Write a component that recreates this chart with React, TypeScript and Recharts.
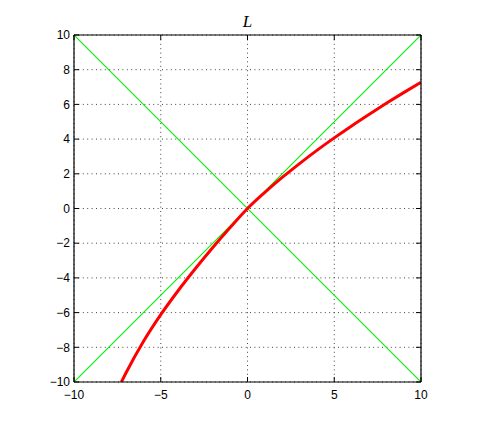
import React from "react";
import {CartesianGrid, Line, LineChart, XAxis, YAxis} from "recharts";

// red curve L(x)
const curveX = [-7.27, -7, -6, -5, -4, -3, -2, -1, 0, 1, 2, 3, 4, 5, 6, 7, 8, 9, 10];
const curveY = [-10, -9.47, -7.67, -6.12, -4.74, -3.46, -2.25, -1.1, 0, 0.93, 1.79, 2.59, 3.35, 4.07, 4.76, 5.42, 6.06, 6.68, 7.28];

// green reference diagonals
const diagX = [-10, 10];
const riseY = [-10, 10];
const fallY = [10, -10];

const xTicks = [-10, -5, 0, 5, 10];
const yTicks = [-10, -8, -6, -4, -2, 0, 2, 4, 6, 8, 10];

const curveData = curveX.map((x, i) => ({x, y: curveY[i]}));
const riseData = diagX.map((x, i) => ({x, y: riseY[i]}));
const fallData = diagX.map((x, i) => ({x, y: fallY[i]}));

const fmt = (v: number) => (v < 0 ? "\u2212" + Math.abs(v) : String(v));
const blank = () => "";

const tickStyle = {fontSize: 12, fontFamily: "Liberation Sans", fill: "#000"};

const App = () => {
    return (
        <div style={{position: "relative", width: 480, height: 418}}>
            <LineChart width={480} height={418} margin={{top: 26, right: 66, bottom: 0, left: 0}}>
                <CartesianGrid stroke="#444" strokeDasharray="1 3.4"/>
                <XAxis type="number" dataKey="x" domain={[-10, 10]} ticks={xTicks} tickFormatter={fmt}
                       allowDataOverflow height={44} tickSize={-5} tickMargin={13}
                       axisLine={{stroke: "#000", strokeWidth: 1.2}} tickLine={{stroke: "#000"}} tick={tickStyle}/>
                <XAxis xAxisId="top" orientation="top" type="number" dataKey="x" domain={[-10, 10]}
                       ticks={xTicks} tickFormatter={blank} allowDataOverflow height={1} tickSize={-5}
                       axisLine={{stroke: "#000", strokeWidth: 1.2}} tickLine={{stroke: "#000"}}/>
                <YAxis type="number" dataKey="y" domain={[-10, 10]} ticks={yTicks} tickFormatter={fmt}
                       allowDataOverflow width={66} tickSize={-5} tickMargin={9}
                       axisLine={{stroke: "#000", strokeWidth: 1.2}} tickLine={{stroke: "#000"}} tick={tickStyle}/>
                <YAxis yAxisId="right" orientation="right" type="number" dataKey="y" domain={[-10, 10]}
                       ticks={yTicks} tickFormatter={blank} allowDataOverflow width={1} tickSize={-5}
                       axisLine={{stroke: "#000", strokeWidth: 1.2}} tickLine={{stroke: "#000"}}/>
                <Line data={riseData} dataKey="y" type="linear" stroke="rgb(0, 235, 0)" strokeWidth={1.1}
                      dot={false} activeDot={false} isAnimationActive={false}/>
                <Line data={fallData} dataKey="y" type="linear" stroke="rgb(0, 235, 0)" strokeWidth={1.1}
                      dot={false} activeDot={false} isAnimationActive={false}/>
                <Line data={curveData} dataKey="y" type="monotone" stroke="#ff0000" strokeWidth={3}
                      dot={false} activeDot={false} isAnimationActive={false}/>
            </LineChart>
            <div style={{
                position: "absolute", left: 66, width: 347, top: 4, textAlign: "center",
                fontFamily: "Liberation Serif", fontStyle: "italic", fontSize: 17
            }}>L
            </div>
        </div>
    );
};

export default App;
